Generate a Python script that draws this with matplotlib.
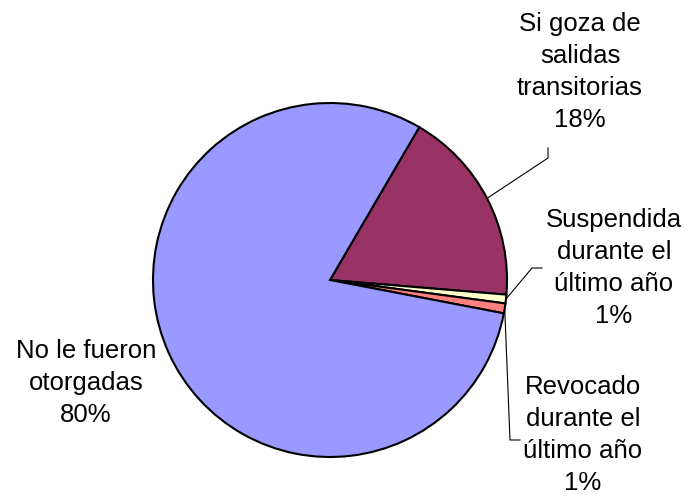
import numpy as np
import matplotlib
matplotlib.use("Agg")
import matplotlib.pyplot as plt

categories = ["Si goza de\nsalidas\ntransitorias", "Suspendida\ndurante el\núltimo año",
              "Revocado\ndurante el\núltimo año", "No le fueron\notorgadas"]
values = [17.9, 0.8, 0.9, 80.4]
colors = ["#993366", "#FFFFCC", "#FF8080", "#9999FF"]

W, H = 694, 499
fig = plt.figure(figsize=(W / 100, H / 100), dpi=100)
ax = fig.add_axes([0, 0, 1, 1])

cx, cy, r = 330, H - 280, 177
start = 90 - 30.3
wedges, _ = ax.pie(values, colors=colors, startangle=start, counterclock=False,
                   center=(cx, cy), radius=r, frame=True,
                   wedgeprops=dict(edgecolor="black", linewidth=1.5))
ax.set_xlim(0, W)
ax.set_ylim(0, H)
ax.set_aspect("equal")
ax.axis("off")

total = sum(values)
labels = [f"{c}\n{round(v / total * 100):.0f}%" for c, v in zip(categories, values)]

def mid_point(w):
    a = np.deg2rad((w.theta1 + w.theta2) / 2)
    return cx + r * np.cos(a), cy + r * np.sin(a)

txt_kw = dict(fontsize=18.5, family=["Liberation Sans", "DejaVu Sans"], ha="center",
              va="center", linespacing=1.42, color="black")

# label positions (pixel coords, top-left origin)
label_pos = [(580, 72), (614, 268), (583, 435), (86, 383)]
for lab, (x, y) in zip(labels, label_pos):
    ax.text(x, H - y, lab, **txt_kw)

# leader lines
p = mid_point(wedges[0])
ax.plot([p[0], 548, 548], [p[1], H - 158, H - 148], color="black", lw=0.8)
p = mid_point(wedges[1])
ax.plot([p[0], 532, 542], [p[1], H - 268, H - 268], color="black", lw=0.8)
p = mid_point(wedges[2])
ax.plot([p[0], 510, 520], [p[1], H - 440, H - 440], color="black", lw=0.8)

fig.savefig("out.png", dpi=100)
